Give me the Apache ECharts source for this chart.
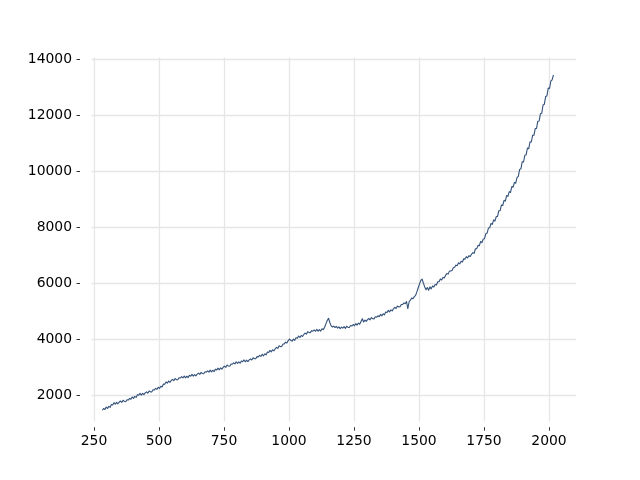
<!DOCTYPE html>
<html>
<head>
<meta charset="utf-8">
<script src="https://cdn.jsdelivr.net/npm/echarts@6/dist/echarts.min.js"></script>
<style>html,body{margin:0;padding:0;background:#fff;}#c{width:640px;height:480px;}</style>
</head>
<body>
<div id="c"></div>
<script>
const xTickValues = [250, 500, 750, 1000, 1250, 1500, 1750, 2000];
const yTickValues = [2000, 4000, 6000, 8000, 10000, 12000, 14000];
const seriesPoints = [
[282,1455],[287,1515],[292,1485],[297,1570],[302,1520],[307,1595],[312,1560],[317,1660],[322,1645],[327,1725],
[332,1672],[337,1734],[342,1686],[347,1748],[352,1784],[357,1736],[362,1813],[367,1770],[372,1761],[377,1833],
[382,1820],[387,1878],[392,1846],[397,1929],[402,1877],[407,1950],[412,1913],[417,2011],
[422,1992],[427,2060],[432,1997],[437,2060],[442,2012],[447,2075],[452,2112],[457,2065],
[462,2146],[467,2110],[472,2109],[477,2188],[482,2181],[487,2235],[492,2199],[497,2278],
[502,2234],[507,2314],[512,2285],[517,2390],[522,2381],[527,2466],[532,2422],
[537,2499],[542,2453],[547,2517],[552,2556],[557,2510],[562,2589],[567,2548],[572,2542],[577,2616],[582,2605],
[587,2654],[592,2608],[597,2678],[602,2612],[607,2671],[612,2621],[617,2705],[622,2674],[627,2738],[632,2673],[637,2732],
[642,2683],[647,2745],[652,2781],[657,2733],[662,2809],[667,2766],[672,2757],[677,2829],[682,2815],[687,2862],
[692,2817],[697,2888],[702,2824],[707,2885],[712,2836],[717,2922],[722,2893],[727,2959],
[732,2900],[737,2967],[742,2924],[747,2991],[752,3032],[757,2989],[762,3071],[767,3033],[772,3029],[777,3106],[782,3098],[787,3150],[792,3111],[797,3188],
[802,3126],[807,3185],[812,3134],[817,3218],[822,3188],[827,3252],[832,3186],[837,3246],[842,3195],[847,3254],
[852,3292],[857,3250],[862,3332],[867,3295],[872,3292],[877,3370],[882,3362],[887,3415],[892,3377],[897,3455],
[902,3399],[907,3472],[912,3435],[917,3533],[922,3516],[927,3594],[932,3542],[937,3615],[942,3578],[947,3651],[952,3699],
[957,3664],[962,3756],[967,3728],[972,3735],[977,3822],[982,3824],[987,3886],[992,3858],[997,3945],
[1002,4000],[1007,3950],[1012,3925],[1017,3994],[1022,3953],[1027,4046],
[1032,4028],[1037,4106],[1042,4054],[1047,4127],[1052,4090],[1057,4163],[1062,4211],[1067,4174],[1072,4262],[1077,4230],
[1082,4229],[1087,4297],[1092,4280],[1097,4323],[1102,4276],[1107,4344],[1112,4278],[1117,4336],[1122,4284],[1127,4367],[1132,4335],
[1137,4420],[1142,4540],[1147,4660],[1152,4740],[1157,4590],[1162,4470],[1167,4430],
[1172,4460],[1177,4410],[1182,4450],[1187,4390],[1192,4435],[1197,4370],[1202,4425],[1207,4390],[1212,4440],[1217,4380],
[1222,4458],[1227,4416],[1232,4409],[1237,4481],[1242,4469],[1247,4517],[1252,4475],
[1257,4552],[1262,4498],[1267,4568],[1272,4528],[1277,4624],[1282,4724],[1287,4605],[1292,4675],
[1297,4629],[1302,4693],[1307,4732],[1312,4686],[1317,4765],[1322,4724],[1327,4718],[1332,4792],[1337,4781],[1342,4830],
[1347,4796],[1352,4879],[1357,4827],[1362,4900],[1367,4863],[1372,4961],[1377,4944],[1382,5022],[1387,4970],[1392,5042],
[1397,5005],[1402,5079],[1407,5127],[1412,5090],[1417,5179],[1422,5147],[1427,5150],[1432,5234],[1437,5232],[1442,5290],[1447,5259],
[1452,5340],[1457,5080],[1462,5330],[1467,5387],[1472,5463],[1477,5438],[1482,5514],
[1487,5560],[1492,5690],[1497,5830],[1502,5970],[1507,6090],[1512,6140],[1517,5990],[1522,5860],[1527,5760],[1532,5840],[1537,5740],[1542,5860],[1547,5790],
[1552,5891],[1557,5857],[1562,5948],[1567,5929],[1572,6045],[1577,6046],[1582,6142],[1587,6108],[1592,6199],[1597,6180],[1602,6271],[1607,6337],[1612,6318],[1617,6424],
[1622,6429],[1627,6448],[1632,6548],[1637,6562],[1642,6637],[1647,6621],[1652,6721],[1657,6685],[1662,6775],[1667,6752],
[1672,6863],[1677,6854],[1682,6940],[1687,6895],[1692,6976],[1697,6947],[1702,7027],[1707,7083],
[1712,7059],[1717,7224],[1722,7229],[1727,7344],[1732,7329],[1737,7484],[1742,7439],[1747,7574],
[1752,7581],[1757,7762],[1762,7782],[1767,7963],[1772,7973],
[1777,8127],[1782,8095],[1787,8254],[1792,8212],[1797,8371],
[1802,8376],[1807,8581],[1812,8586],[1817,8781],[1822,8766],
[1827,8953],[1832,8923],[1837,9123],[1842,9093],[1847,9263],
[1852,9234],[1857,9444],[1862,9424],[1867,9594],[1872,9564],
[1877,9767],[1882,9807],[1887,10057],[1892,10077],
[1897,10332],[1902,10321],[1907,10560],[1912,10579],[1917,10818],
[1922,10796],[1927,11040],[1932,11035],[1937,11279],[1942,11274],
[1947,11513],[1952,11520],[1957,11778],[1962,11785],[1967,12043],
[1972,12059],[1977,12356],[1982,12382],[1987,12659],
[1992,12682],[1997,12959],[2002,12947],[2007,13214],[2012,13252],[2017,13430]
];

const chart = echarts.init(document.getElementById('c'), null, {renderer: 'canvas'});
const font = 'DejaVu Sans';
const plain = v => String(v);
const labelStyle = {color: '#000', fontSize: 13.9, fontFamily: font, formatter: plain};
const gridColor = '#e6e6e6';
const lineColor = '#33517a';
chart.setOption({
  animation: false,
  backgroundColor: '#fff',
  grid: [
    {left: 80, right: 64, top: 57.6, bottom: 52.8},
    {left: 91.5, right: 64, top: 57.6, bottom: 58.5}
  ],
  xAxis: [
    {type: 'value', gridIndex: 0, min: 196.2, max: 2103.8,
     axisLine: {show: false},
     axisTick: {show: true, length: 3.5, lineStyle: {color: '#000', width: 0.8}, customValues: xTickValues},
     axisLabel: Object.assign({customValues: xTickValues, margin: 7}, labelStyle),
     splitLine: {show: false}},
    {type: 'value', gridIndex: 1, min: 240.43, max: 2103.8,
     axisLine: {show: false},
     axisTick: {show: false, customValues: xTickValues},
     axisLabel: {show: false, customValues: xTickValues},
     splitLine: {show: true, lineStyle: {color: gridColor, width: 1.3}}}
  ],
  yAxis: [
    {type: 'value', gridIndex: 0, min: 850, max: 14050,
     axisLine: {show: false},
     axisTick: {show: true, length: 3.5, lineStyle: {color: '#000', width: 0.8}, customValues: yTickValues},
     axisLabel: Object.assign({customValues: yTickValues, margin: 8}, labelStyle),
     splitLine: {show: false}},
    {type: 'value', gridIndex: 1, min: 1053.6, max: 14050,
     axisLine: {show: false},
     axisTick: {show: false, customValues: yTickValues},
     axisLabel: {show: false, customValues: yTickValues},
     splitLine: {show: true, lineStyle: {color: gridColor, width: 1.3}}}
  ],
  series: [{
    type: 'custom',
    coordinateSystem: 'cartesian2d',
    xAxisIndex: 0, yAxisIndex: 0,
    data: seriesPoints,
    encode: {x: 0, y: 1},
    z: 5,
    silent: true,
    renderItem: function (params, api) {
      if (params.dataIndex !== 0) return null;
      const pts = seriesPoints.map(function (p) { return api.coord(p); });
      return {
        type: 'polyline',
        shape: {points: pts},
        style: {stroke: lineColor, lineWidth: 1.1, fill: null, lineJoin: 'round'}
      };
    }
  }]
});
</script>
</body>
</html>
